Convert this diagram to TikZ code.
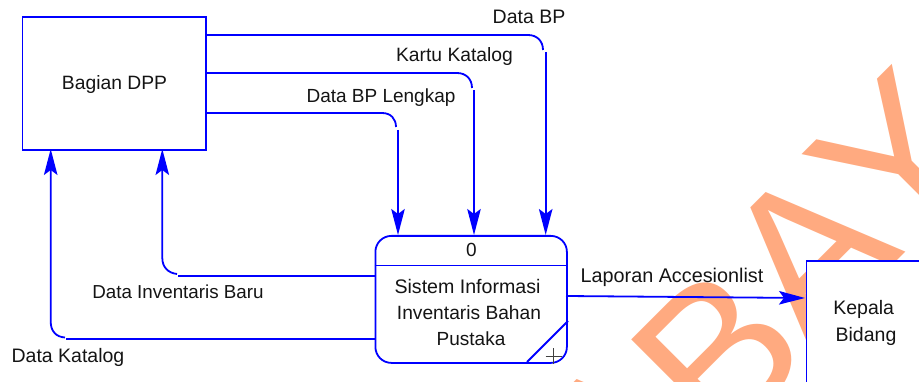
\documentclass[tikz,border=0pt]{standalone}
\usepackage{fontspec}
\setmainfont{Liberation Sans}
\usetikzlibrary{arrows.meta}
\definecolor{flowblue}{RGB}{0,0,255}
\definecolor{wmorange}{RGB}{255,170,128}
\tikzset{
  box/.style={draw=flowblue,line width=1.8pt,fill=white,inner sep=0pt},
  lab/.style={inner sep=0pt,text height=13.5pt,text depth=0pt,font=\fontsize{#1}{26}\selectfont,text=black!92},
  wm/.style={rotate=45,anchor=base west,inner sep=0pt,text=wmorange,font=\fontsize{205}{205}\selectfont},
  flow/.style={draw=flowblue,line width=1.8pt},
  arrowed/.style={flow,-{Stealth[length=26pt,width=13.5pt,inset=5pt]}},
}
\begin{document}
\begin{tikzpicture}[x=1pt,y=-1pt]
\useasboundingbox (0,0) rectangle (919,382);
\clip (0,0) rectangle (919,382);
\node[wm] (wa) at (620,536) {A};
\node[wm] (wb) at (719,452) {B};
\node[wm] (wc) at (809,349) {A};
\node[wm] (wd) at (898,258) {Y};
% boxes
\node[box,minimum width=183.5pt,minimum height=133pt,anchor=north west] (dpp) at (21.5,16) {};
\node[lab=19.3] (dpptext) at (114.5,83) {Bagian DPP};
\node[box,minimum width=140pt,minimum height=150pt,anchor=north west] (kep) at (805.5,260) {};
\node[lab=19.5] (keptext) at (863.7,308) {Kepala};
\node[lab=19.5] (keptext2) at (866,335) {Bidang};
\node[box,rounded corners=16pt,minimum width=191.5pt,minimum height=127pt,anchor=north west] (proc) at (374.5,235) {};
\coordinate (divL) at (374.5,265.5);
\coordinate (divR) at (566,265.5);
\draw[flow] (divL) -- (divR);
\coordinate (diagA) at (527,362);
\coordinate (diagB) at (568,321);
\draw[flow] (diagA) -- (diagB);
\coordinate (plusC) at (553.5,356);
\draw[black!75,line width=.9pt] ([xshift=-8pt]plusC) -- ([xshift=8pt]plusC) ([yshift=-8pt]plusC) -- ([yshift=8pt]plusC);
\node[lab=19] (pnum) at (471.5,250) {0};
\node[lab=19.6] (p1) at (467.5,287) {Sistem Informasi};
\node[lab=19.2] (p2) at (469,313) {Inventaris Bahan};
\node[lab=19] (p3) at (471,339) {Pustaka};
% Data BP
\coordinate (a1) at (205,35); \coordinate (a2) at (528,35); \coordinate (a3) at (543,50);
\coordinate (a4) at (545.7,52); \coordinate (a5) at (545.7,235);
\draw[flow] (a1) -- (a2) .. controls (537,35) and (543,41) .. (a3);
\draw[arrowed] (a4) -- (a5);
% Kartu Katalog
\coordinate (b1) at (205,73); \coordinate (b2) at (457,73); \coordinate (b3) at (472,88);
\coordinate (b4) at (474,90); \coordinate (b5) at (474,235);
\draw[flow] (b1) -- (b2) .. controls (466,73) and (472,79) .. (b3);
\draw[arrowed] (b4) -- (b5);
% Data BP Lengkap
\coordinate (c1) at (205,113); \coordinate (c2) at (382,113); \coordinate (c3) at (396,127);
\coordinate (c4) at (398,130); \coordinate (c5) at (398,235);
\draw[flow] (c1) -- (c2) .. controls (391,113) and (396,119) .. (c3);
\draw[arrowed] (c4) -- (c5);
% Data Inventaris Baru
\coordinate (d1) at (374.5,275.7); \coordinate (d2) at (178,275.7); \coordinate (d3) at (177,274);
\coordinate (d4) at (162.3,258); \coordinate (d5) at (162.3,149);
\draw[flow] (d1) -- (d2);
\draw[arrowed] (d3) .. controls (168,273) and (162.3,267) .. (d4) -- (d5);
% Data Katalog
\coordinate (e1) at (374.5,339); \coordinate (e2) at (66,339); \coordinate (e3) at (65,337.5);
\coordinate (e4) at (50.7,321.7); \coordinate (e5) at (50.7,149);
\draw[flow] (e1) -- (e2);
\draw[arrowed] (e3) .. controls (56,337) and (50.7,331) .. (e4) -- (e5);
% Laporan
\coordinate (f1) at (566,296); \coordinate (f2) at (805,298);
\draw[arrowed] (f1) -- (f2);
% labels
\node[lab=19.5] (l1) at (529,17) {Data BP};
\node[lab=19.3] (l2) at (454.5,55) {Kartu Katalog};
\node[lab=19] (l3) at (381,96) {Data BP Lengkap};
\node[lab=18.8] (l4) at (178,292) {Data Inventaris Baru};
\node[lab=19.5] (l5) at (68,356) {Data Katalog};
\node[lab=19.8] (l6) at (672,276) {Laporan Accesionlist};
\end{tikzpicture}
\end{document}
